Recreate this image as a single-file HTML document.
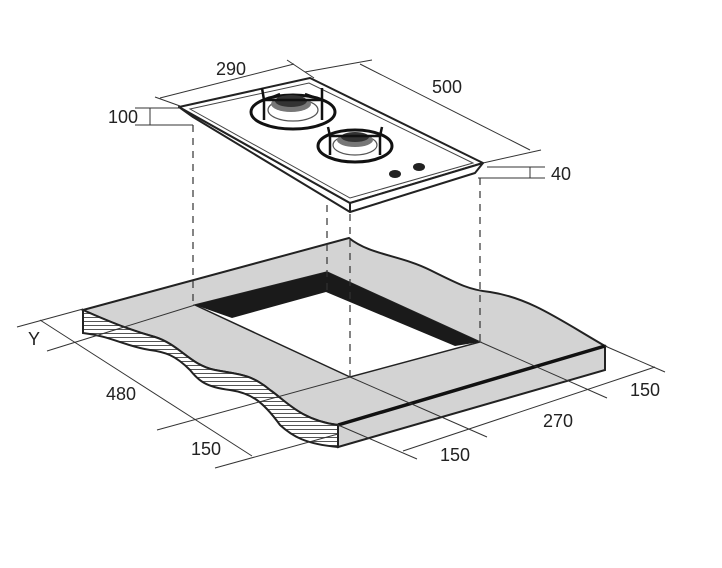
<!DOCTYPE html>
<html><head><style>
html,body{margin:0;padding:0;background:#fff;}
svg{display:block;}
text{font-family:"Liberation Sans",sans-serif;font-size:18px;fill:#222;}
</style></head><body>
<svg width="722" height="568" viewBox="0 0 722 568" xmlns="http://www.w3.org/2000/svg">
<defs>
<pattern id="h" width="6" height="4" patternUnits="userSpaceOnUse">
<rect width="6" height="4" fill="#fff"/>
<line x1="0" y1="1.5" x2="6" y2="1.5" stroke="#555" stroke-width="1"/>
</pattern>
</defs>
<path d="M83,310 L349,238 C370,255 400,255 430,270 C460,285 470,290 490,292 C530,298 560,320 605,346 L338,425 C300,420 285,400 270,390 C250,373 235,374 215,370 C190,365 180,345 155,337 C130,330 110,322 83,310 Z" fill="#d3d3d3" stroke="#222" stroke-width="2"/>
<path d="M338,425 L605,346 L605,370 L338,447 Z" fill="#d3d3d3" stroke="#222" stroke-width="2"/>
<line x1="338" y1="425" x2="605" y2="346" stroke="#111" stroke-width="3.5"/>
<path d="M83,310 C110,322 130,330 155,337 C180,345 190,365 215,370 C235,374 250,373 270,390 C285,400 300,420 338,425 L338,447 C305,444 292,436 280,425 C262,400 250,393 230,390 C205,387 198,380 190,370 C175,355 165,352 150,350 C125,346 110,336 83,333 Z" fill="url(#h)" stroke="#222" stroke-width="2"/>
<polygon points="195,305 327,272 480,342 350,377" fill="#fff" stroke="#222" stroke-width="1.5"/>
<polygon points="195,305 327,272 480,342 455,346 326,292 232,318" fill="#1a1a1a"/>
<g stroke="#333" stroke-width="1.2" stroke-dasharray="7,6" fill="none">
<line x1="193" y1="125" x2="193" y2="305"/>
<line x1="327" y1="205" x2="327" y2="290"/>
<line x1="350" y1="214" x2="350" y2="377"/>
<line x1="480" y1="178" x2="480" y2="342"/>
</g>
<polygon points="179,107 193,117 350,212 350,203" fill="#fff" stroke="#222" stroke-width="2" stroke-linejoin="round"/>
<polygon points="179,107 310,78 483,163 350,203" fill="#fff" stroke="#222" stroke-width="2" stroke-linejoin="round"/>
<polygon points="350,203 483,163 475,173 350,212" fill="#fff" stroke="#222" stroke-width="2" stroke-linejoin="round"/>
<polygon points="190,109 309,83 473,163 350,198" fill="none" stroke="#444" stroke-width="1"/>
<ellipse cx="293" cy="112" rx="42" ry="17" fill="#fff" stroke="#111" stroke-width="3"/>
<ellipse cx="293" cy="110" rx="25" ry="11" fill="#fff" stroke="#555" stroke-width="1.2"/>
<ellipse cx="291" cy="104" rx="20" ry="8" fill="#777"/>
<ellipse cx="291" cy="101" rx="16" ry="6" fill="#333"/>
<path d="M264,120 L264,100 L262,88 M264,100 L322,100 L322,88 M322,100 L322,120 M265,100 L280,94 M322,100 L305,94" stroke="#111" stroke-width="2.5" fill="none"/>
<ellipse cx="355" cy="146" rx="37" ry="16" fill="#fff" stroke="#111" stroke-width="3"/>
<ellipse cx="355" cy="145" rx="22" ry="10" fill="#fff" stroke="#555" stroke-width="1.2"/>
<ellipse cx="355" cy="140" rx="18" ry="7" fill="#777"/>
<ellipse cx="355" cy="137" rx="14" ry="5" fill="#333"/>
<path d="M330,155 L330,136 L328,127 M330,136 L380,136 L382,127 M380,136 L380,155" stroke="#111" stroke-width="2.5" fill="none"/>
<ellipse cx="395" cy="174" rx="6" ry="4" fill="#222"/>
<ellipse cx="419" cy="167" rx="6" ry="4" fill="#222"/>
<g stroke="#333" stroke-width="1" fill="none">
<line x1="155" y1="97" x2="180" y2="106"/>
<line x1="160" y1="98" x2="294" y2="64"/>
<line x1="287" y1="60" x2="314" y2="78"/>
<line x1="305" y1="72" x2="372" y2="60"/>
<line x1="360" y1="64" x2="530" y2="150"/>
<line x1="483" y1="163" x2="541" y2="150"/>
<line x1="135" y1="108" x2="180" y2="108"/>
<line x1="135" y1="125" x2="193" y2="125"/>
<line x1="150" y1="108" x2="150" y2="125"/>
<line x1="487" y1="167" x2="545" y2="167"/>
<line x1="478" y1="178" x2="545" y2="178"/>
<line x1="530" y1="167" x2="530" y2="178"/>
<line x1="17" y1="327" x2="83" y2="309"/>
<line x1="47" y1="351" x2="195" y2="305"/>
<line x1="157" y1="430" x2="350" y2="377"/>
<line x1="215" y1="468" x2="338" y2="434"/>
<line x1="40" y1="320" x2="252" y2="456"/>
<line x1="478" y1="341" x2="607" y2="398"/>
<line x1="605" y1="346" x2="665" y2="372"/>
<line x1="350" y1="377" x2="487" y2="437"/>
<line x1="338" y1="425" x2="417" y2="459"/>
<line x1="403" y1="451" x2="655" y2="367"/>
</g>
<text x="216" y="75">290</text>
<text x="432" y="93">500</text>
<text x="108" y="123">100</text>
<text x="551" y="180">40</text>
<text x="28" y="345">Y</text>
<text x="106" y="400">480</text>
<text x="191" y="455">150</text>
<text x="440" y="461">150</text>
<text x="543" y="427">270</text>
<text x="630" y="396">150</text>
</svg>
</body></html>
